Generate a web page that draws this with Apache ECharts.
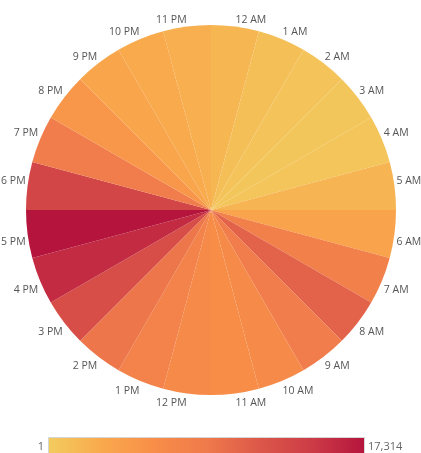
<!DOCTYPE html>
<html>
<head>
<meta charset="utf-8">
<script src="https://cdn.jsdelivr.net/npm/echarts@6/dist/echarts.min.js"></script>
<style>
  html, body { margin: 0; padding: 0; background: #fff; }
  #chart { width: 421px; height: 453px; }
</style>
</head>
<body>
<div id="chart"></div>
<script>
// Hour categories (clockwise from top)
const hours = ['12 AM','1 AM','2 AM','3 AM','4 AM','5 AM','6 AM','7 AM','8 AM','9 AM','10 AM','11 AM',
               '12 PM','1 PM','2 PM','3 PM','4 PM','5 PM','6 PM','7 PM','8 PM','9 PM','10 PM','11 PM'];
// Angle weight per slice (every hour gets an equal slice)
const sliceWeights = [1,1,1,1,1,1,1,1,1,1,1,1,1,1,1,1,1,1,1,1,1,1,1,1];
// Count per hour (drives colour)
const counts = [1800, 1100, 700, 500, 600, 2000, 3600, 7800, 10700, 8200, 6300, 5900,
                6400, 7400, 9000, 12500, 15600, 17314, 13300, 8200, 4800, 3400, 2900, 2500];
// Colour legend range and labels
const legendMin = 1;
const legendMax = 17314;
const legendMinLabel = '1';
const legendMaxLabel = '17,314';
const palette = ['#f2cc5e', '#f9aa4d', '#f88e48', '#ef7a4b', '#dc5849', '#cc3b46', '#b5143d'];

const source = hours.map((h, i) => [h, sliceWeights[i], counts[i]]);
const CX = 211, CY = 210;

const chart = echarts.init(document.getElementById('chart'), null, { renderer: 'canvas' });
chart.setOption({
  animation: false,
  backgroundColor: '#ffffff',
  textStyle: { fontFamily: '"Open Sans", sans-serif' },
  dataset: { source: source, dimensions: ['hour', 'weight', 'count'] },
  visualMap: {
    type: 'continuous',
    show: false,
    seriesIndex: 0,
    dimension: 2,
    min: legendMin,
    max: legendMax,
    inRange: { color: palette }
  },
  graphic: [
    {
      type: 'rect',
      shape: { x: 48.5, y: 437.5, width: 316, height: 20 },
      style: {
        fill: new echarts.graphic.LinearGradient(0, 0, 1, 0,
          palette.map((c, i) => ({ offset: i / (palette.length - 1), color: c }))),
        stroke: '#d6d6d6',
        lineWidth: 1
      },
      silent: true
    },
    {
      type: 'text',
      style: { text: legendMinLabel, x: 44, y: 447, align: 'right', verticalAlign: 'middle',
               fill: '#666', fontSize: 11, fontFamily: '"Open Sans", sans-serif' },
      silent: true
    },
    {
      type: 'text',
      style: { text: legendMaxLabel, x: 368, y: 447, align: 'left', verticalAlign: 'middle',
               fill: '#666', fontSize: 11, fontFamily: '"Open Sans", sans-serif' },
      silent: true
    }
  ],
  series: [{
    type: 'pie',
    center: [CX, CY],
    radius: [0, 185],
    startAngle: 90,
    clockwise: true,
    avoidLabelOverlap: false,
    silent: true,
    encode: { itemName: 'hour', value: 'weight' },
    itemStyle: { borderWidth: 0 },
    emphasis: { disabled: true, scale: false },
    label: {
      show: true,
      position: 'outside',
      formatter: '{b}',
      color: '#555',
      fontSize: 10.5,
      fontFamily: '"Open Sans", sans-serif',
      distanceToLabelLine: 0
    },
    labelLine: { show: false, length: 2, length2: 0 },
    labelLayout: function (p) {
      const midY = p.labelRect.y + p.labelRect.height / 2;
      return { dy: midY < CY ? -5 : 8 };
    }
  }]
});
</script>
</body>
</html>
